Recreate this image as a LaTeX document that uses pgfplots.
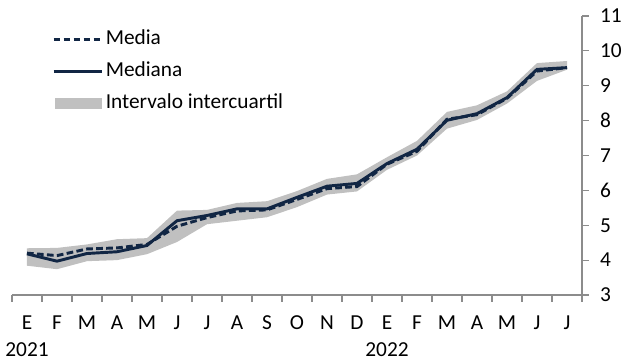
\documentclass[border=0pt]{standalone}
\usepackage{fontspec}
\setmainfont{Carlito}
\usepackage{pgfplots}
\pgfplotsset{compat=1.18}
\definecolor{navy}{RGB}{17,38,68}
\definecolor{band}{RGB}{192,192,192}
\definecolor{axgray}{RGB}{140,140,140}

\begin{document}
\begin{tikzpicture}
\begin{axis}[
    at={(0pt,0pt)}, anchor=south west,
    scale only axis,
    width=427.5pt, height=209.25pt,
    xmin=-0.5, xmax=18.5,
    ymin=3, ymax=11,
    axis x line*=bottom,
    axis y line*=right,
    axis line style={axgray, line width=0.8pt},
    every tick/.style={axgray, line width=0.8pt},
    tick align=outside,
    xtick={0,...,18},
    major x tick style={draw=none},
    minor xtick={-0.5,0.5,...,18.5},
    minor tick length=5pt,
    xticklabels={{E\\2021},F,M,A,M,J,J,A,S,O,N,D,{E\\2022},F,M,A,M,J,J},
    xticklabel style={align=center, yshift=-7pt},
    ytick={3,...,11},
    major tick length=5pt,
    yticklabel style={xshift=5pt},
    /pgf/number format/assume math mode=true,
    tick label style={font=\fontsize{16}{20}\selectfont},
    legend style={at={(0.063,0.975)}, anchor=north west, draw=none, fill=none,
        font=\fontsize{16}{19}\selectfont,
        nodes={text height=12pt, text depth=4pt, inner sep=2pt},
        row sep=4pt},
    legend cell align=left,
    legend image code/.code={\draw[#1] (0pt,0pt) -- (36pt,0pt);},
]
% intervalo intercuartil: limite superior, luego inferior al reves
\addplot[fill=band, draw=none, forget plot] coordinates {
 (0,4.34) (1,4.35) (2,4.45) (3,4.60) (4,4.63) (5,5.42) (6,5.44) (7,5.64) (8,5.69)
 (9,5.98) (10,6.33) (11,6.46) (12,6.95) (13,7.42) (14,8.25) (15,8.44) (16,8.84)
 (17,9.65) (18,9.71)
 (18,9.46) (17,9.14) (16,8.49) (15,8.02) (14,7.77) (13,7.00) (12,6.59) (11,5.97)
 (10,5.88) (9,5.52) (8,5.23) (7,5.13) (6,5.03) (5,4.52) (4,4.17) (3,4.00)
 (2,3.97) (1,3.74) (0,3.84)
} -- cycle;
% media
\addplot[navy, line width=2.2pt, dash pattern=on 5pt off 2.5pt, forget plot] coordinates {
 (0,4.20) (1,4.13) (2,4.32) (3,4.35) (4,4.45) (5,4.97) (6,5.22) (7,5.41) (8,5.44)
 (9,5.74) (10,6.05) (11,6.11) (12,6.75) (13,7.12) (14,8.04) (15,8.17) (16,8.64)
 (17,9.42) (18,9.52)
};
% mediana
\addplot[navy, line width=2.2pt, forget plot] coordinates {
 (0,4.18) (1,3.97) (2,4.19) (3,4.24) (4,4.42) (5,5.13) (6,5.28) (7,5.47) (8,5.47)
 (9,5.80) (10,6.12) (11,6.20) (12,6.77) (13,7.18) (14,8.01) (15,8.20) (16,8.66)
 (17,9.47) (18,9.52)
};
\addlegendimage{navy, line width=2.2pt, dash pattern=on 5pt off 2.5pt}
\addlegendentry{Media}
\addlegendimage{navy, line width=2.2pt}
\addlegendentry{Mediana}
\addlegendimage{legend image code/.code={\fill[band] (1.5pt,-4pt) rectangle (36pt,4pt);}}
\addlegendentry{Intervalo intercuartil}
\end{axis}
\pgfresetboundingbox
\path[use as bounding box] (-9pt,-48.75pt) rectangle (459pt,221.25pt);
\end{tikzpicture}
\end{document}
